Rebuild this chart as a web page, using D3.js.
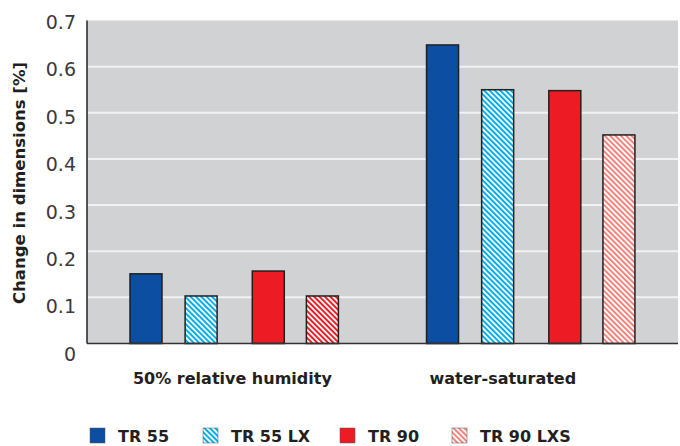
<!DOCTYPE html>
<html><head><meta charset="utf-8">
<script src="https://cdn.jsdelivr.net/npm/d3@7"></script>
<style>body{margin:0;background:#fff}svg{display:block}</style>
</head><body>
<script>
const categories = ["50% relative humidity", "water-saturated"];
const seriesNames = ["TR 55", "TR 55 LX", "TR 90", "TR 90 LXS"];
const values = {
  "TR 55":     [0.151, 0.647],
  "TR 55 LX":  [0.103, 0.550],
  "TR 90":     [0.157, 0.548],
  "TR 90 LXS": [0.103, 0.452]
};
const yTicks = [0, 0.1, 0.2, 0.3, 0.4, 0.5, 0.6, 0.7];
const yTickLabels = ["0", "0.1", "0.2", "0.3", "0.4", "0.5", "0.6", "0.7"];

const W = 680, H = 446;
const svg = d3.select("body").append("svg").attr("width", W).attr("height", H);
const defs = svg.append("defs");
function hatch(id, color) {
  const p = defs.append("pattern").attr("id", id).attr("patternUnits", "userSpaceOnUse")
    .attr("width", 3.8).attr("height", 3.8).attr("patternTransform", "rotate(45)");
  p.append("rect").attr("width", 3.8).attr("height", 3.8).attr("fill", color);
  p.append("rect").attr("y", 0).attr("width", 3.8).attr("height", 1.8).attr("fill", "#fff");
}
hatch("h-cyan", "#00aeef");
hatch("h-red", "#ed1c24");
hatch("h-salmon", "#f4837d");

// fill per series per category
const fills = {
  "TR 55": ["#0b4ea2", "#0b4ea2"],
  "TR 55 LX": ["url(#h-cyan)", "url(#h-cyan)"],
  "TR 90": ["#ed1c24", "#ed1c24"],
  "TR 90 LXS": ["url(#h-red)", "url(#h-salmon)"]
};
const legendFills = ["#0b4ea2", "url(#h-cyan)", "#ed1c24", "url(#h-salmon)"];

const mLeft = 87, mRight = 678, mTop = 20.5, mBottom = 343.5;
const y = d3.scaleLinear().domain([0, 0.7]).range([mBottom, mTop]);
const yLab = d3.scaleLinear().domain([0, 0.7]).range([354, 22]);
const x0 = d3.scaleBand().domain(categories).range([mLeft, mRight]).paddingInner(0.297).paddingOuter(0.145);
const bw = 32;
// offsets inside a group (pairs of TR 55 / TR 90 families)
const x1 = d3.scaleOrdinal().domain(seriesNames).range([0, 55 / 208, 122 / 208, 176 / 208]);

svg.append("rect").attr("x", mLeft).attr("y", mTop).attr("width", mRight - mLeft).attr("height", mBottom - mTop).attr("fill", "#d1d2d4");
svg.append("g").selectAll("line").data(yTicks.filter(d => d > 0 && d < 0.7)).join("line")
  .attr("x1", mLeft).attr("x2", mRight).attr("y1", d => y(d)).attr("y2", d => y(d))
  .attr("stroke", "#f2f2f2").attr("stroke-width", 2);

// bars
const bars = [];
categories.forEach((c, ci) => seriesNames.forEach(s => bars.push({c, ci, s, v: values[s][ci]})));
svg.append("g").selectAll("rect").data(bars).join("rect")
  .attr("x", d => x0(d.c) + x1(d.s) * x0.bandwidth())
  .attr("y", d => y(d.v)).attr("width", bw).attr("height", d => y(0) - y(d.v))
  .attr("fill", d => fills[d.s][d.ci]).attr("stroke", "#231f20").attr("stroke-width", 1.5);

// axes lines
svg.append("line").attr("x1", mLeft).attr("x2", mRight).attr("y1", mBottom).attr("y2", mBottom).attr("stroke", "#333").attr("stroke-width", 1.5);
svg.append("line").attr("x1", mLeft).attr("x2", mLeft).attr("y1", mTop).attr("y2", mBottom).attr("stroke", "#222").attr("stroke-width", 1.5);

// y tick labels
svg.append("g").selectAll("text").data(yTicks).join("text")
  .attr("x", 76).attr("y", d => yLab(d)).attr("dy", "0.36em").attr("text-anchor", "end")
  .attr("font-family", "DejaVu Sans").attr("font-size", 19).attr("fill", "#3a3a3a")
  .text((d, i) => yTickLabels[i]);

// y title
svg.append("text").attr("transform", "translate(25,183) rotate(-90)").attr("text-anchor", "middle")
  .attr("font-family", "DejaVu Sans").attr("font-weight", "bold").attr("font-size", 16.5).attr("fill", "#231f20")
  .text("Change in dimensions [%]");

// category labels
svg.append("g").selectAll("text").data(categories).join("text")
  .attr("x", d => x0(d) + 3).attr("y", 384)
  .attr("font-family", "DejaVu Sans").attr("font-weight", "bold").attr("font-size", 16).attr("fill", "#231f20")
  .text(d => d);

// legend
const legX = d3.scaleOrdinal().domain(seriesNames).range([90, 203, 340, 452]);
const lg = svg.append("g").selectAll("g").data(seriesNames).join("g")
  .attr("transform", d => `translate(${legX(d)},428)`);
lg.append("rect").attr("width", 15).attr("height", 15).attr("fill", (d, i) => legendFills[i])
  .attr("stroke", "#555").attr("stroke-width", 0.5);
lg.append("text").attr("x", 28).attr("y", 13.5)
  .attr("font-family", "DejaVu Sans").attr("font-weight", "bold").attr("font-size", 16).attr("fill", "#231f20")
  .text(d => d);
</script>
</body></html>
